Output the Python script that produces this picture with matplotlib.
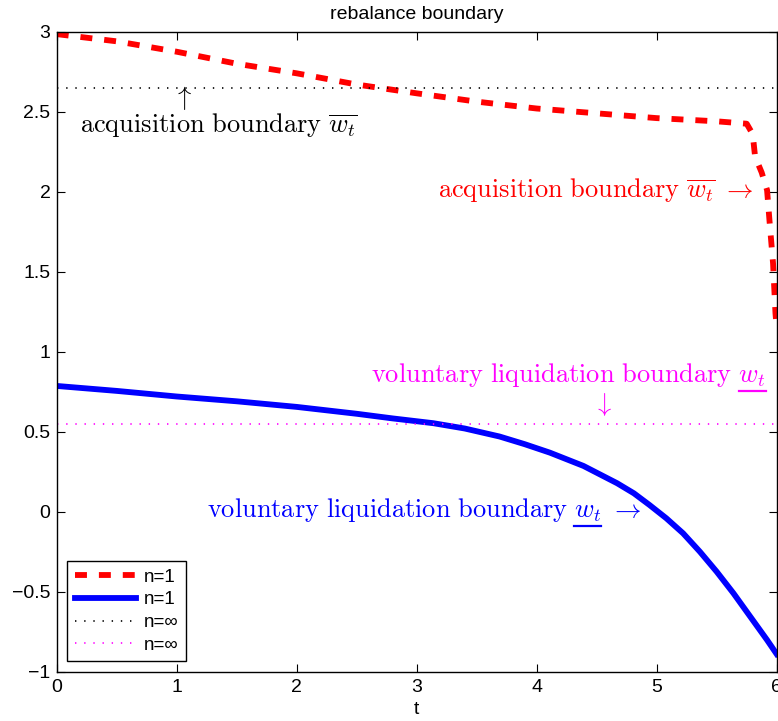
import matplotlib
matplotlib.use("Agg")
import matplotlib.pyplot as plt
from matplotlib.lines import Line2D

plt.rcParams['font.family'] = ['Liberation Sans', 'DejaVu Sans']
plt.rcParams['mathtext.fontset'] = 'cm'
plt.rcParams['lines.scale_dashes'] = False

# Data
t_acq = [0.0, 0.5, 1.0, 1.5, 2.0, 2.5, 3.0, 3.5, 4.0, 4.5, 5.0, 5.5, 5.75,
         5.8, 5.82, 5.875, 5.92, 5.94, 5.97, 5.99, 6.0]
w_acq = [2.985, 2.94, 2.875, 2.80, 2.74, 2.67, 2.615, 2.563, 2.52, 2.49, 2.46,
         2.44, 2.425, 2.36, 2.22, 2.12, 2.01, 1.82, 1.55, 1.24, 1.15]
t_liq = [0.0, 0.5, 1.0, 1.5, 2.0, 2.5, 2.8, 3.14, 3.4, 3.69, 3.9, 4.11, 4.39,
         4.67, 4.81, 4.94, 5.08, 5.22, 5.36, 5.5, 5.64, 5.78, 5.92, 6.0]
w_liq = [0.786, 0.755, 0.72, 0.69, 0.655, 0.612, 0.583, 0.553, 0.52, 0.47,
         0.422, 0.369, 0.286, 0.178, 0.115, 0.042, -0.041, -0.135, -0.25,
         -0.375, -0.51, -0.656, -0.802, -0.89]
acq_inf = 2.65
liq_inf = 0.545
legend_labels = ['n=1', 'n=1', 'n=\u221e', 'n=\u221e']

fig = plt.figure(figsize=(7.78, 7.21), dpi=100)
ax = fig.add_axes([0.0729, 0.0684, 0.9254, 0.8876])

ax.plot(t_acq, w_acq, color='#ff0000', lw=4.2, dashes=(8.6, 8.6),
        label=legend_labels[0])
ax.plot(t_liq, w_liq, color='#0000ff', lw=4.2, label=legend_labels[1],
        solid_joinstyle='round')
ax.plot([0, 6], [acq_inf, acq_inf], color='black', lw=1.2, dashes=(1.0, 5.6),
        label=legend_labels[2])
ax.plot([0, 6], [liq_inf, liq_inf], color='#ff00ff', lw=1.2, dashes=(1.0, 5.6),
        label=legend_labels[3])

ax.set_xlim(0, 6)
ax.set_ylim(-1, 3)
ax.set_xticks([0, 1, 2, 3, 4, 5, 6])
ax.set_yticks([-1, -0.5, 0, 0.5, 1, 1.5, 2, 2.5, 3])
ax.set_yticklabels(['\u22121', '\u22120.5', '0', '0.5', '1', '1.5', '2', '2.5', '3'])
ax.tick_params(direction='in', top=True, right=True, length=6, width=0.8,
               labelsize=14)
ax.tick_params(axis='x', pad=5)
ax.tick_params(axis='y', pad=4.5)
for s in ax.spines.values():
    s.set_linewidth(1.0)
ax.set_xlabel('t', fontsize=14, labelpad=4)
ax.set_title('rebalance boundary', fontsize=14, pad=9)

fs = 19
ax.text(1.35, 2.375, r'$\mathrm{acquisition\ boundary}\ \overline{w_t}$',
        color='black', fontsize=fs, ha='center', va='baseline')
ax.text(1.05, 2.585, r'$\uparrow$', color='black', fontsize=fs,
        ha='center', va='center')
ax.text(5.80, 1.97, r'$\mathrm{acquisition\ boundary}\ \overline{w_t}\ \rightarrow$',
        color='#ff0000', fontsize=fs, ha='right', va='baseline')
ax.text(4.55, 0.67, r'$\downarrow$', color='#ff00ff', fontsize=fs,
        ha='center', va='center')

# texts with underlined w_t
under_specs = [
    (5.91, 0.81, r'\mathrm{voluntary\ liquidation\ boundary}\ ', r'w_t', r'', '#ff00ff'),
    (4.867, -0.031, r'\mathrm{voluntary\ liquidation\ boundary}\ ', r'w_t', r'\ \rightarrow', '#0000ff'),
]
made = []
for (x, y, pre, und, suf, col) in under_specs:
    full = ax.text(x, y, '$' + pre + und + suf + '$', color=col, fontsize=fs,
                   ha='right', va='baseline')
    made.append((full, x, y, und, suf, col))

fig.canvas.draw()
rend = fig.canvas.get_renderer()
for (full, x, y, und, suf, col) in made:
    fb = full.get_window_extent(rend)
    if suf:
        st = ax.text(x, y, '$' + suf + '$', fontsize=fs, ha='right', va='baseline')
        sw = st.get_window_extent(rend).width
        st.remove()
    else:
        sw = 0.0
    ut = ax.text(x, y, '$' + und + '$', fontsize=fs, ha='right', va='baseline')
    ub = ut.get_window_extent(rend)
    ut.remove()
    x1 = fb.x1 - sw
    x0 = x1 - ub.width
    ypix = ub.y0 - 2.5
    inv = ax.transData.inverted()
    (dx0, dy), (dx1, _) = inv.transform([(x0, ypix), (x1, ypix)])
    ax.add_line(Line2D([dx0, dx1], [dy, dy], color=col, lw=1.6,
                       clip_on=False))

leg = ax.legend(loc='lower left', fontsize=13.5, fancybox=False, framealpha=1,
                edgecolor='black', handlelength=3.3, borderaxespad=0.55,
                labelspacing=0.3, handletextpad=0.4, borderpad=0.4)
leg.get_frame().set_linewidth(1.0)

fig.savefig('out.png', dpi=100)
